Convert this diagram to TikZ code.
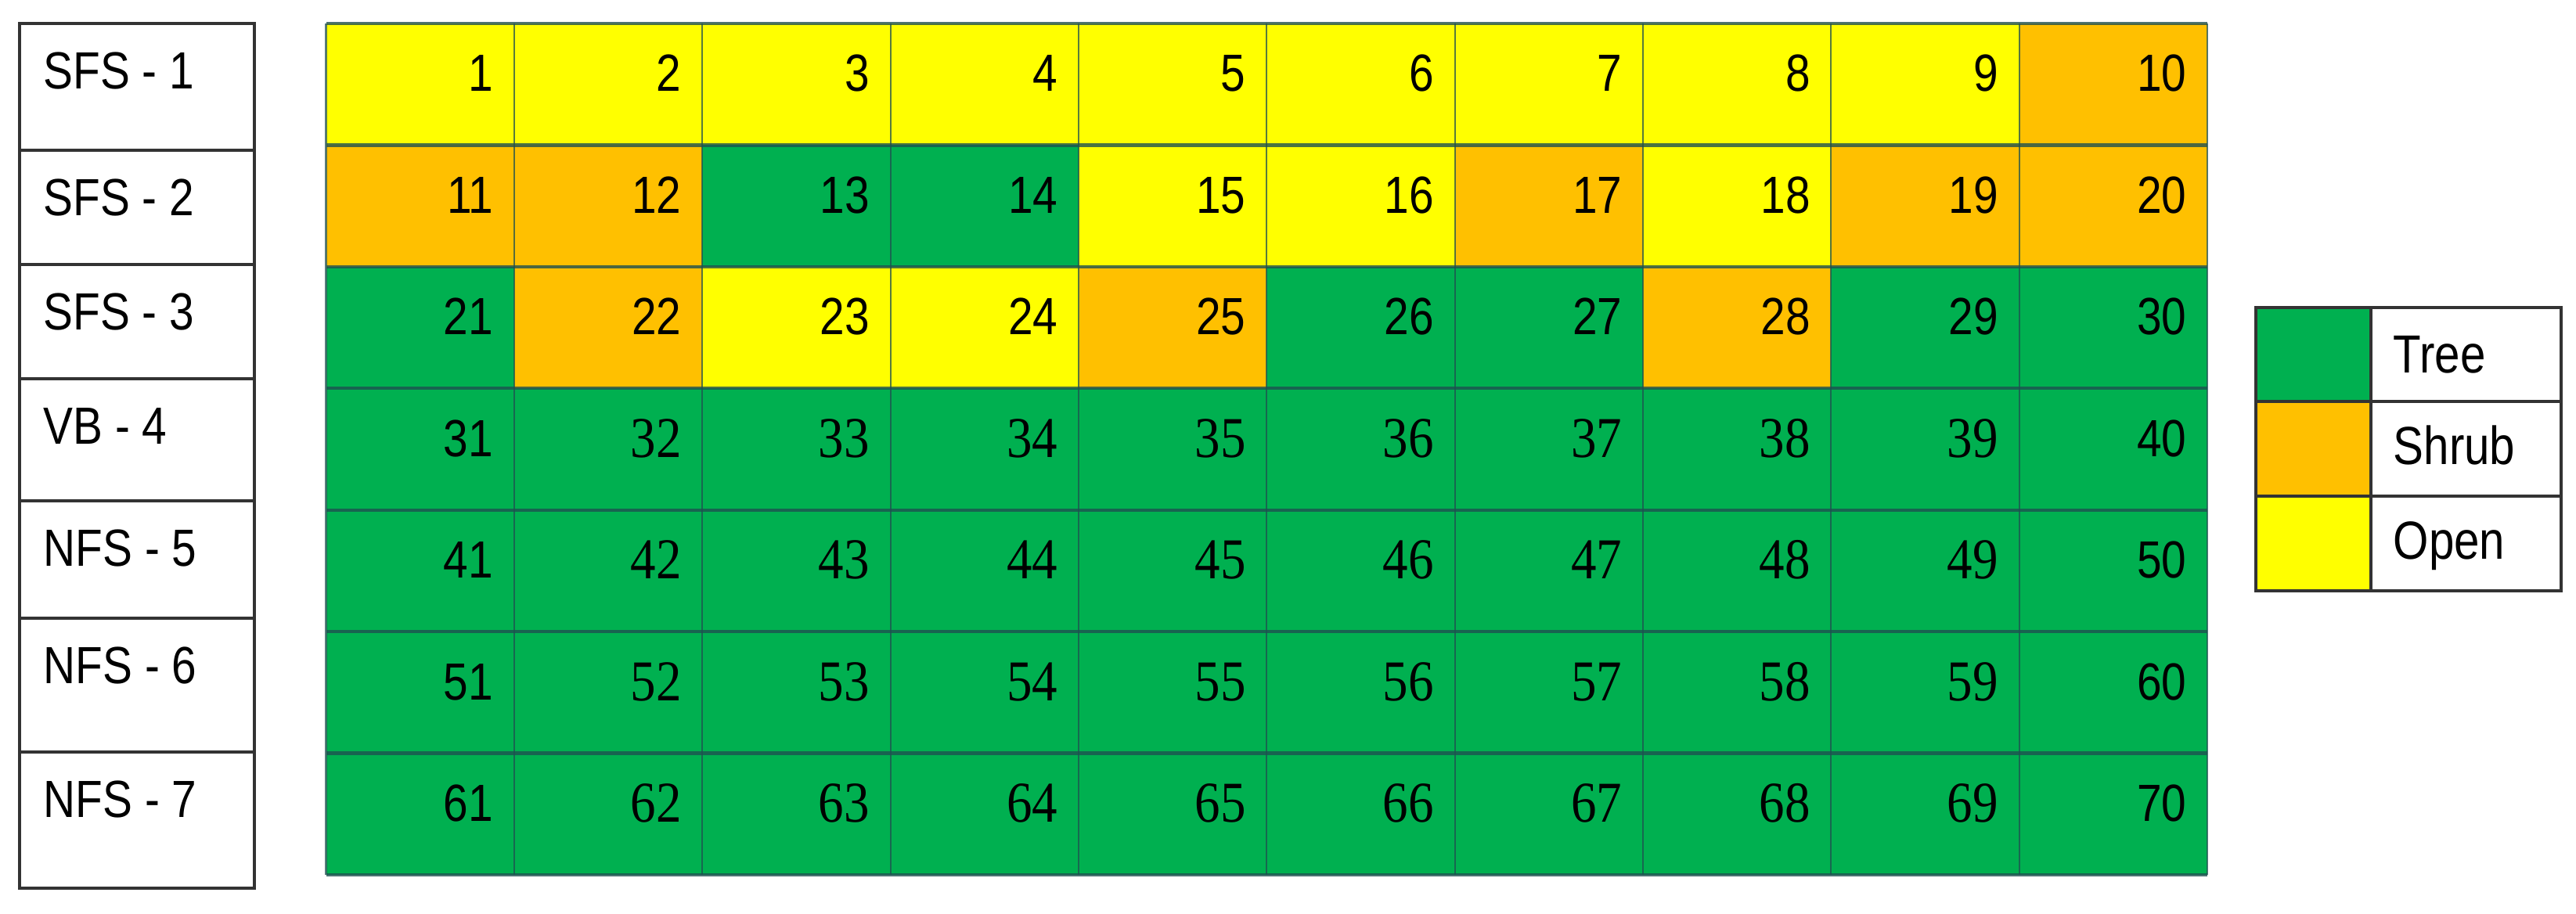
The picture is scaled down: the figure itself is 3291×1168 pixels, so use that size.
\documentclass[tikz,border=0pt]{standalone}
\usepackage{fontspec}
\setmainfont{Liberation Sans}
\newfontfamily\sansnarrow[FakeStretch=0.85]{Liberation Sans}
\newfontfamily\serifnarrow[FakeStretch=0.88]{Liberation Serif}
\definecolor{tree}{HTML}{00B050}
\definecolor{shrub}{HTML}{FFC000}
\definecolor{open}{HTML}{FFFF00}
\definecolor{gridc}{HTML}{1F5050}
\definecolor{boxc}{HTML}{333333}
\tikzset{
  hline/.style={draw=gridc, draw opacity=0.8, line width=1.2pt},
  vline/.style={draw=gridc, draw opacity=0.75, line width=0.6pt},
  boxline/.style={draw=boxc, line width=0.9pt},
  sansnum/.style={anchor=base east, inner sep=0pt, font=\sansnarrow\fontsize{19}{22}\selectfont},
  serifnum/.style={anchor=base east, inner sep=0pt, font=\serifnarrow\fontsize{21}{24}\selectfont},
  rowlabel/.style={anchor=base west, inner sep=0pt, font=\sansnarrow\fontsize{19}{22}\selectfont},
  legtext/.style={anchor=base west, inner sep=0pt, font=\sansnarrow\fontsize{19.5}{22}\selectfont}
}
\begin{document}
\begin{tikzpicture}[x=0.01cm,y=-0.01cm]
\useasboundingbox (0,0) rectangle (3291,1168);
\def\gx{416.5}
\def\gw{240.35}
\def\gy{30}
\def\gh{155.43}
% background fill of grid
\fill[tree] (\gx,\gy) rectangle (\gx+10*\gw,\gy+7*\gh);
% non-tree cells
\foreach \n/\col in {1/open,2/open,3/open,4/open,5/open,6/open,7/open,8/open,9/open,10/shrub,
  11/shrub,12/shrub,15/open,16/open,17/shrub,18/open,19/shrub,20/shrub,
  22/shrub,23/open,24/open,25/shrub,28/shrub}{
  \pgfmathtruncatemacro{\r}{int((\n-1)/10)}
  \pgfmathtruncatemacro{\c}{mod(\n-1,10)}
  \fill[\col] (\gx+\c*\gw,\gy+\r*\gh) rectangle (\gx+\c*\gw+\gw,\gy+\r*\gh+\gh);
}
% grid lines
\foreach \i in {0,...,10}{
  \draw[vline] (\gx+\i*\gw,\gy) -- (\gx+\i*\gw,\gy+7*\gh);
}
\foreach \j in {0,...,7}{
  \draw[hline] (\gx,\gy+\j*\gh) -- (\gx+10*\gw,\gy+\j*\gh);
}
% numbers
\foreach \n in {1,...,70}{
  \pgfmathtruncatemacro{\r}{int((\n-1)/10)}
  \pgfmathtruncatemacro{\c}{mod(\n-1,10)}
  \pgfmathtruncatemacro{\isserif}{(\r>2)&&(\c>0)&&(\c<9) ? 1 : 0}
  \ifnum\isserif=1
    \node[serifnum] (n\n) at (\gx+\c*\gw+\gw-26,\gy+\r*\gh+88) {\n};
  \else
    \node[sansnum] (n\n) at (\gx+\c*\gw+\gw-26,\gy+\r*\gh+87) {\n};
  \fi
}
% row label column
\draw[boxline] (25,30) rectangle (325,1135);
\foreach \yy in {192,338,484,640,790,961}{
  \draw[boxline] (25,\yy) -- (325,\yy);
}
\foreach \lab/\yy [count=\k] in {SFS - 1/30,SFS - 2/192,SFS - 3/338,VB - 4/484,NFS - 5/640,NFS - 6/790,NFS - 7/961}{
  \node[rowlabel] (lab\k) at (55,\yy+84) {\lab};
}
% legend
\fill[tree] (2882,393) rectangle (3029,513);
\fill[shrub] (2882,513) rectangle (3029,634);
\fill[open] (2882,634) rectangle (3029,755);
\draw[boxline] (2882,393) rectangle (3272,755);
\draw[boxline] (2882,513) -- (3272,513);
\draw[boxline] (2882,634) -- (3272,634);
\draw[boxline] (3029,393) -- (3029,755);
\node[legtext] (legtree) at (3057,477) {Tree};
\node[legtext] (legshrub) at (3057,594) {Shrub};
\node[legtext] (legopen) at (3057,715) {Open};
\end{tikzpicture}
\end{document}
